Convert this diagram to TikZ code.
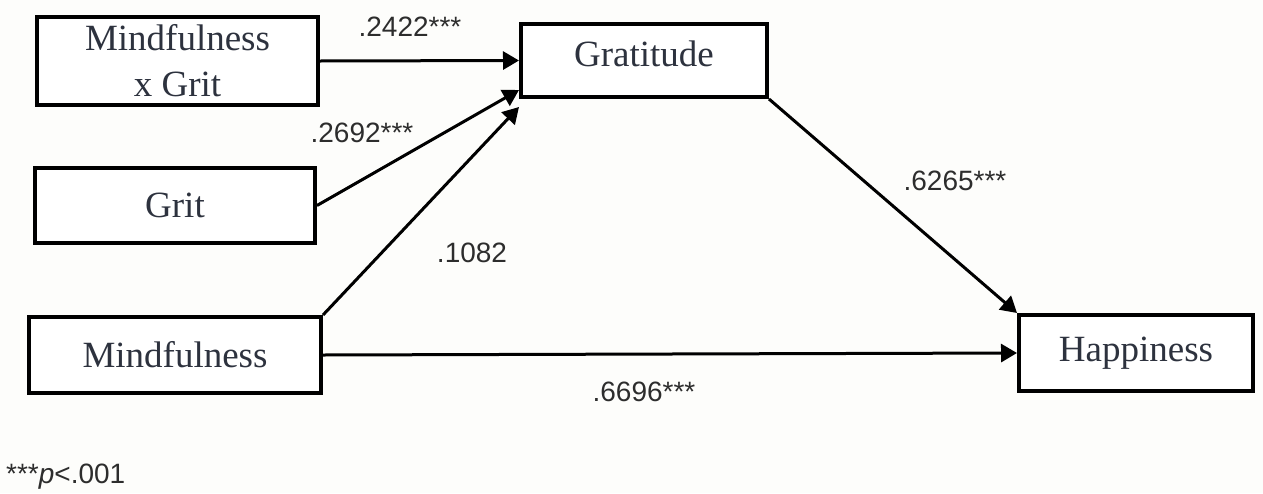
\documentclass[tikz,border=0pt]{standalone}
\usepackage{fontspec}
\setmainfont{Liberation Serif}
\newfontfamily\labelfont{Liberation Sans}
\usetikzlibrary{arrows.meta}
\definecolor{bgc}{RGB}{253,253,251}
\definecolor{boxtext}{RGB}{45,50,62}
\definecolor{labtext}{RGB}{45,45,45}
\begin{document}
\begin{tikzpicture}[x=1pt,y=-1pt,
  box/.style={draw=black, line width=4pt, inner sep=0pt, fill=white,
    font=\fontsize{37}{46}\selectfont, text=boxtext, align=center},
  arr/.style={line width=3pt, -{Triangle[length=16pt,width=18pt]}},
  lab/.style={inner sep=0pt, font=\labelfont\fontsize{28}{32}\selectfont, text=labtext}]
\path[fill=bgc] (0,0) rectangle (1263,493);
\useasboundingbox (0,0) rectangle (1263,493);

\node[box, minimum width=281pt, minimum height=88pt] (mxg) at (177.5,61) {Mindfulness\\x Grit};
\node[box, minimum width=280pt, minimum height=75pt] (grit) at (175,205.5) {Grit};
\node[box, minimum width=292pt, minimum height=76pt] (mind) at (175,355) {Mindfulness};
\node[box, minimum width=246pt, minimum height=73pt, text depth=14pt] (grat) at (644,60.5) {Gratitude};
\node[box, minimum width=234pt, minimum height=76pt] (happ) at (1136,353) {Happiness};

\draw[arr] (mxg.east) -- (grat.west);
\draw[arr] (grit.east) -- ([yshift=9pt]grat.south west);
\draw[arr] (mind.north east) -- ([yshift=-8pt]grat.south west);
\draw[arr] (grat.south east) -- (happ.north west);
\draw[arr] (mind.east) -- (happ.west);

\node[lab] (l1) at (410,27) {.2422***};
\node[lab] (l2) at (362,133) {.2692***};
\node[lab] (l3) at (472,253) {.1082};
\node[lab] (l4) at (955,181) {.6265***};
\node[lab] (l5) at (644,392) {.6696***};
\node[lab, anchor=west] (note) at (6,477) {***\textit{p}<.001};
\end{tikzpicture}
\end{document}
